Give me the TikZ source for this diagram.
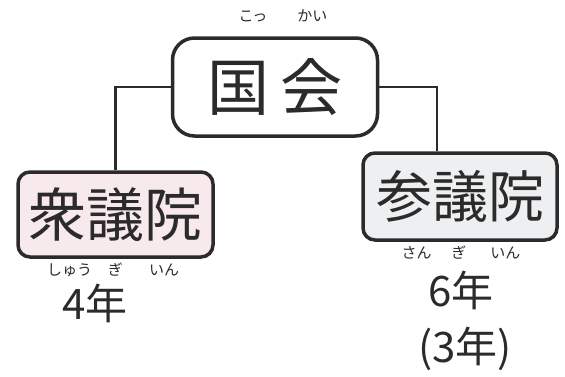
\documentclass[tikz,border=0pt]{standalone}
\usepackage{fontspec}
\newfontfamily\jp{Noto Sans CJK JP}
\definecolor{ink}{HTML}{2B2B2B}
\definecolor{shupink}{HTML}{F7E9EC}
\definecolor{sangray}{HTML}{EDEFF1}
\tikzset{
  inbox/.style={draw=ink, line width=3.5pt, rectangle, rounded corners=12pt, inner sep=0pt, text=ink},
  ruby/.style={text=ink, font=\jp\fontsize{15}{15}\selectfont},
  nen/.style={text=ink, font=\jp\fontsize{42}{42}\selectfont},
  link/.style={draw=ink, line width=2.5pt}
}
\begin{document}
\begin{tikzpicture}[x=1pt,y=-1pt]
\useasboundingbox (0,0) rectangle (565,376);
\node(KokRuby)[ruby] at (283,16) {こっ\hspace{30pt}かい};
\node(Kokkai)[inbox, rounded corners=22pt, minimum width=205pt, minimum height=98pt,
  font=\jp\fontsize{62}{62}\selectfont] at (275,87) {国\hspace{12pt}会};

\node(Shu)[inbox, fill=shupink, minimum width=195pt, minimum height=85pt,
  font=\jp\fontsize{58}{58}\selectfont] at (115.5,214.5) {衆議院};
\node(San)[inbox, fill=sangray, minimum width=194pt, minimum height=87pt,
  font=\jp\fontsize{56}{56}\selectfont] at (460,196.5) {参議院};

\node(ShuRuby)[ruby] at (113,270) {しゅう\hspace{16pt}ぎ\hspace{26pt}いん};
\node(SanRuby)[ruby] at (461,253) {さん\hspace{20pt}ぎ\hspace{24pt}いん};

\node(ShuNen)[nen] at (95,303) {4年};
\node(SanNen)[nen] at (461,290) {6年};
\node(SanHan)[nen] at (465,349) {(3年)};

\draw[link] (Kokkai.west) -| (Shu.north);
\draw[link] (Kokkai.east) -| ([xshift=-23pt]San.north);
\end{tikzpicture}
\end{document}
